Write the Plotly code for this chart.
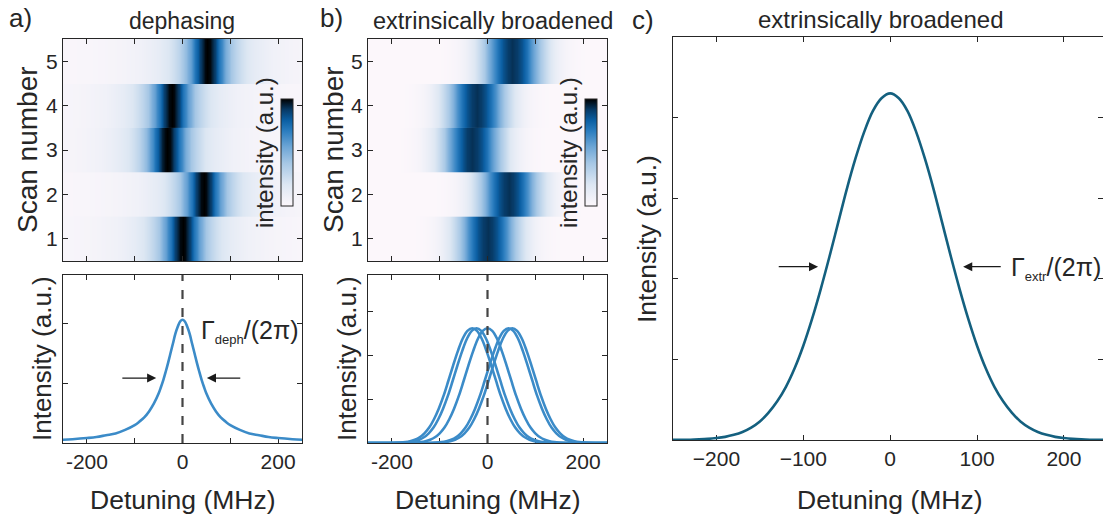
import plotly.graph_objects as go

W, H = 1103, 519

# ---- data -------------------------------------------------------------
scans = [1, 2, 3, 4, 5]
scan_centers = [0, 44, -32, -23, 52]          # resonance position of each scan (MHz)

# homogeneous (dephasing-limited) lineshape, relative to its centre
offset_a = [-300, -260, -230, -200, -180, -160, -140, -120, -100, -90, -80, -70,
            -60, -50, -45, -40, -35, -30, -25, -20, -15, -10, -5, 0,
            5, 10, 15, 20, 25, 30, 35, 40, 45, 50, 60, 70,
            80, 90, 100, 120, 140, 160, 180, 200, 230, 260, 300]
intensity_a = [0.039, 0.051, 0.064, 0.083, 0.10, 0.13, 0.16, 0.22, 0.30, 0.36, 0.43, 0.53,
               0.66, 0.83, 0.94, 1.06, 1.20, 1.35, 1.51, 1.67, 1.83, 1.95, 2.04, 2.07,
               2.04, 1.95, 1.83, 1.67, 1.51, 1.35, 1.20, 1.06, 0.94, 0.83, 0.66, 0.53,
               0.43, 0.36, 0.30, 0.22, 0.16, 0.13, 0.10, 0.083, 0.064, 0.051, 0.039]

# single-scan lineshape with extrinsic broadening, relative to its centre
offset_b = [-320, -260, -220, -200, -180, -160, -150, -140, -130, -120, -110, -100,
            -90, -80, -70, -60, -50, -40, -30, -20, -10, 0,
            10, 20, 30, 40, 50, 60, 70, 80, 90, 100, 110, 120,
            130, 140, 150, 160, 180, 200, 220, 260, 320]
intensity_b = [0.0, 0.0, 0.0, 0.0, 0.001, 0.005, 0.010, 0.021, 0.040, 0.075, 0.13, 0.22,
               0.35, 0.54, 0.78, 1.07, 1.41, 1.76, 2.09, 2.37, 2.55, 2.61,
               2.55, 2.37, 2.09, 1.76, 1.41, 1.07, 0.78, 0.54, 0.35, 0.22, 0.13, 0.075,
               0.040, 0.021, 0.010, 0.005, 0.001, 0.0, 0.0, 0.0, 0.0]

# averaged, extrinsically broadened line
detuning_c = [-250, -240, -230, -220, -210, -200, -190, -180, -170, -160, -150, -140,
              -130, -120, -110, -100, -90, -80, -70, -60, -50, -40, -30, -20, -10, 0,
              10, 20, 30, 40, 50, 60, 70, 80, 90, 100, 110, 120, 130, 140, 150,
              160, 170, 180, 190, 200, 210, 220, 230, 240, 250]
intensity_c = [0.001, 0.002, 0.004, 0.008, 0.014, 0.024, 0.039, 0.064, 0.100, 0.154, 0.23, 0.34,
               0.48, 0.66, 0.89, 1.17, 1.50, 1.87, 2.27, 2.69, 3.11, 3.49, 3.82, 4.08, 4.24, 4.30,
               4.24, 4.08, 3.82, 3.49, 3.11, 2.69, 2.27, 1.87, 1.50, 1.17, 0.89, 0.66, 0.48, 0.34, 0.23,
               0.154, 0.100, 0.064, 0.039, 0.024, 0.014, 0.008, 0.004, 0.002, 0.001]

detuning_ticks = [-200, -100, 0, 100, 200]

# ---- styling helpers --------------------------------------------------
INK = '#262626'
LINE_AB = '#3b8bc8'
LINE_C = '#14607f'
FONT = 'Liberation Sans, Arial, Helvetica, sans-serif'

cmap = [[0.0, '#fcf7fb'], [0.2, '#dde7f3'], [0.4, '#a6c7e5'], [0.55, '#6ea6d6'],
        [0.7, '#2b7dbf'], [0.8, '#0b5fa3'], [0.9, '#073a66'], [1.0, '#000000']]

ROW_OVERLAP = 0.012   # rows slightly overlap so no white seam shows between scans


def xdom(p0, p1):
    return [p0 / W, p1 / W]


def ydom(top, bottom):
    return [1 - bottom / H, 1 - top / H]


def axis(**kw):
    base = dict(showline=True, linecolor=INK, linewidth=1, mirror='ticks',
                ticks='inside', ticklen=5, tickwidth=1, tickcolor=INK,
                showgrid=False, zeroline=False,
                tickfont=dict(family=FONT, size=21, color=INK))
    base.update(kw)
    return base


fig = go.Figure()

# heatmaps: one band per scan (two identical rows, so smoothing only acts along detuning)
for s, c in zip(scans, scan_centers):
    edges = [s - 0.5 - ROW_OVERLAP, s, s + 0.5 + ROW_OVERLAP]
    fig.add_trace(go.Heatmap(x=[o + c for o in offset_a], y=edges,
                             z=[intensity_a, intensity_a], coloraxis='coloraxis',
                             xaxis='x', yaxis='y', zsmooth='best'))
    fig.add_trace(go.Heatmap(x=[o + c for o in offset_b], y=edges,
                             z=[intensity_b, intensity_b], coloraxis='coloraxis2',
                             xaxis='x3', yaxis='y3', zsmooth='best'))

# line plots
fig.add_trace(go.Scatter(x=offset_a, y=intensity_a, mode='lines',
                         line=dict(color=LINE_AB, width=2.6, shape='spline'),
                         xaxis='x2', yaxis='y2'))
for c in scan_centers:
    fig.add_trace(go.Scatter(x=[o + c for o in offset_b], y=intensity_b, mode='lines',
                             line=dict(color=LINE_AB, width=2.6, shape='spline'),
                             xaxis='x4', yaxis='y4'))
fig.add_trace(go.Scatter(x=detuning_c, y=intensity_c, mode='lines',
                         line=dict(color=LINE_C, width=2.6, shape='spline'),
                         xaxis='x5', yaxis='y5'))


def colorbar(xpx):
    return dict(x=xpx / W, xanchor='left', y=1 - 152.5 / H, yanchor='middle',
                len=107 / H, lenmode='fraction', thickness=12, thicknessmode='pixels',
                outlinewidth=1, outlinecolor=INK, showticklabels=False, ticks='',
                xpad=0, ypad=0)


fig.update_layout(
    width=W, height=H, margin=dict(l=0, r=0, t=0, b=0),
    paper_bgcolor='white', plot_bgcolor='white', showlegend=False,
    font=dict(family=FONT, color=INK),
    coloraxis=dict(colorscale=cmap, cmin=0, cmax=2.07, colorbar=colorbar(281)),
    coloraxis2=dict(colorscale=cmap, cmin=0, cmax=2.85, colorbar=colorbar(585)),
    xaxis=axis(domain=xdom(63, 302), range=[-250, 250], tickvals=detuning_ticks,
               showticklabels=False, anchor='y'),
    yaxis=axis(domain=ydom(39, 261), range=[0.5, 5.5], tickvals=scans, anchor='x'),
    xaxis2=axis(domain=xdom(63, 302), range=[-250, 250], tickvals=detuning_ticks,
                ticktext=['-200', '', '0', '', '200'], anchor='y2', layer='below traces'),
    yaxis2=axis(domain=ydom(275, 443), range=[0, 2.82], tickvals=[0, 1, 2],
                showticklabels=False, anchor='x2', layer='below traces'),
    xaxis3=axis(domain=xdom(368, 607), range=[-250, 250], tickvals=detuning_ticks,
                showticklabels=False, anchor='y3'),
    yaxis3=axis(domain=ydom(39, 261), range=[0.5, 5.5], tickvals=scans, anchor='x3'),
    xaxis4=axis(domain=xdom(368, 607), range=[-250, 250], tickvals=detuning_ticks,
                ticktext=['-200', '', '0', '', '200'], anchor='y4', layer='below traces'),
    yaxis4=axis(domain=ydom(275, 443), range=[0, 3.82], tickvals=[0, 1, 2, 3],
                showticklabels=False, anchor='x4', layer='below traces'),
    xaxis5=axis(domain=xdom(673, 1103), range=[-250, 245], tickvals=detuning_ticks,
                anchor='y5', layer='below traces'),
    yaxis5=axis(domain=ydom(37, 440), range=[0, 5], tickvals=[0, 1, 2, 3, 4],
                showticklabels=False, anchor='x5', layer='below traces'),
)

# dashed line at zero detuning
for xr, yr in (('x2', 'y2'), ('x4', 'y4')):
    fig.add_shape(type='line', x0=0, x1=0, y0=0, y1=1, xref=xr, yref=yr + ' domain',
                  line=dict(color='#444444', width=2.2, dash='dash'))

ann = []


def text(s, xpx, ypx, size, angle=0, xanchor='center'):
    ann.append(dict(text=s, x=xpx / W, y=1 - ypx / H, xref='paper', yref='paper',
                    showarrow=False, xanchor=xanchor, yanchor='middle', textangle=angle,
                    font=dict(family=FONT, size=size, color=INK)))


text('a)', 20, 18, 26)
text('b)', 331, 18, 26)
text('c)', 643, 20, 26)
text('dephasing', 182, 21, 23)
text('extrinsically broadened', 493, 21, 23.5)
text('extrinsically broadened', 880, 19, 24)
text('Scan number', 28, 150, 28, -90)
text('Scan number', 334, 150, 28, -90)
text('intensity (a.u.)', 264, 153, 24, -90)
text('intensity (a.u.)', 568, 153, 24, -90)
text('Intensity (a.u.)', 42, 359, 26, -90)
text('Intensity (a.u.)', 347, 359, 26, -90)
text('Intensity (a.u.)', 647, 239, 26.5, -90)
text('Detuning (MHz)', 183, 500, 26.5)
text('Detuning (MHz)', 488, 500, 26.5)
text('Detuning (MHz)', 890, 500, 26.5)
text("Γ<sub><span style='font-size:13px'>deph</span></sub>/(2π)", 199, 331, 25, xanchor='left')
text("Γ<sub><span style='font-size:13px'>extr</span></sub>/(2π)", 1009, 269, 25, xanchor='left')


def arrow(xr, yr, tail, head, y):
    ann.append(dict(x=head, y=y, ax=tail, ay=y, xref=xr, yref=yr, axref=xr, ayref=yr,
                    text='', showarrow=True, arrowhead=2, arrowsize=1.4,
                    arrowwidth=1.3, arrowcolor='#1a1a1a'))


arrow('x2', 'y2', -129, -55, 1.09)
arrow('x2', 'y2', 124, 51, 1.09)
arrow('x5', 'y5', -130, -83, 2.15)
arrow('x5', 'y5', 129, 84, 2.15)

fig.update_layout(annotations=ann)
fig.write_html('out.html')
